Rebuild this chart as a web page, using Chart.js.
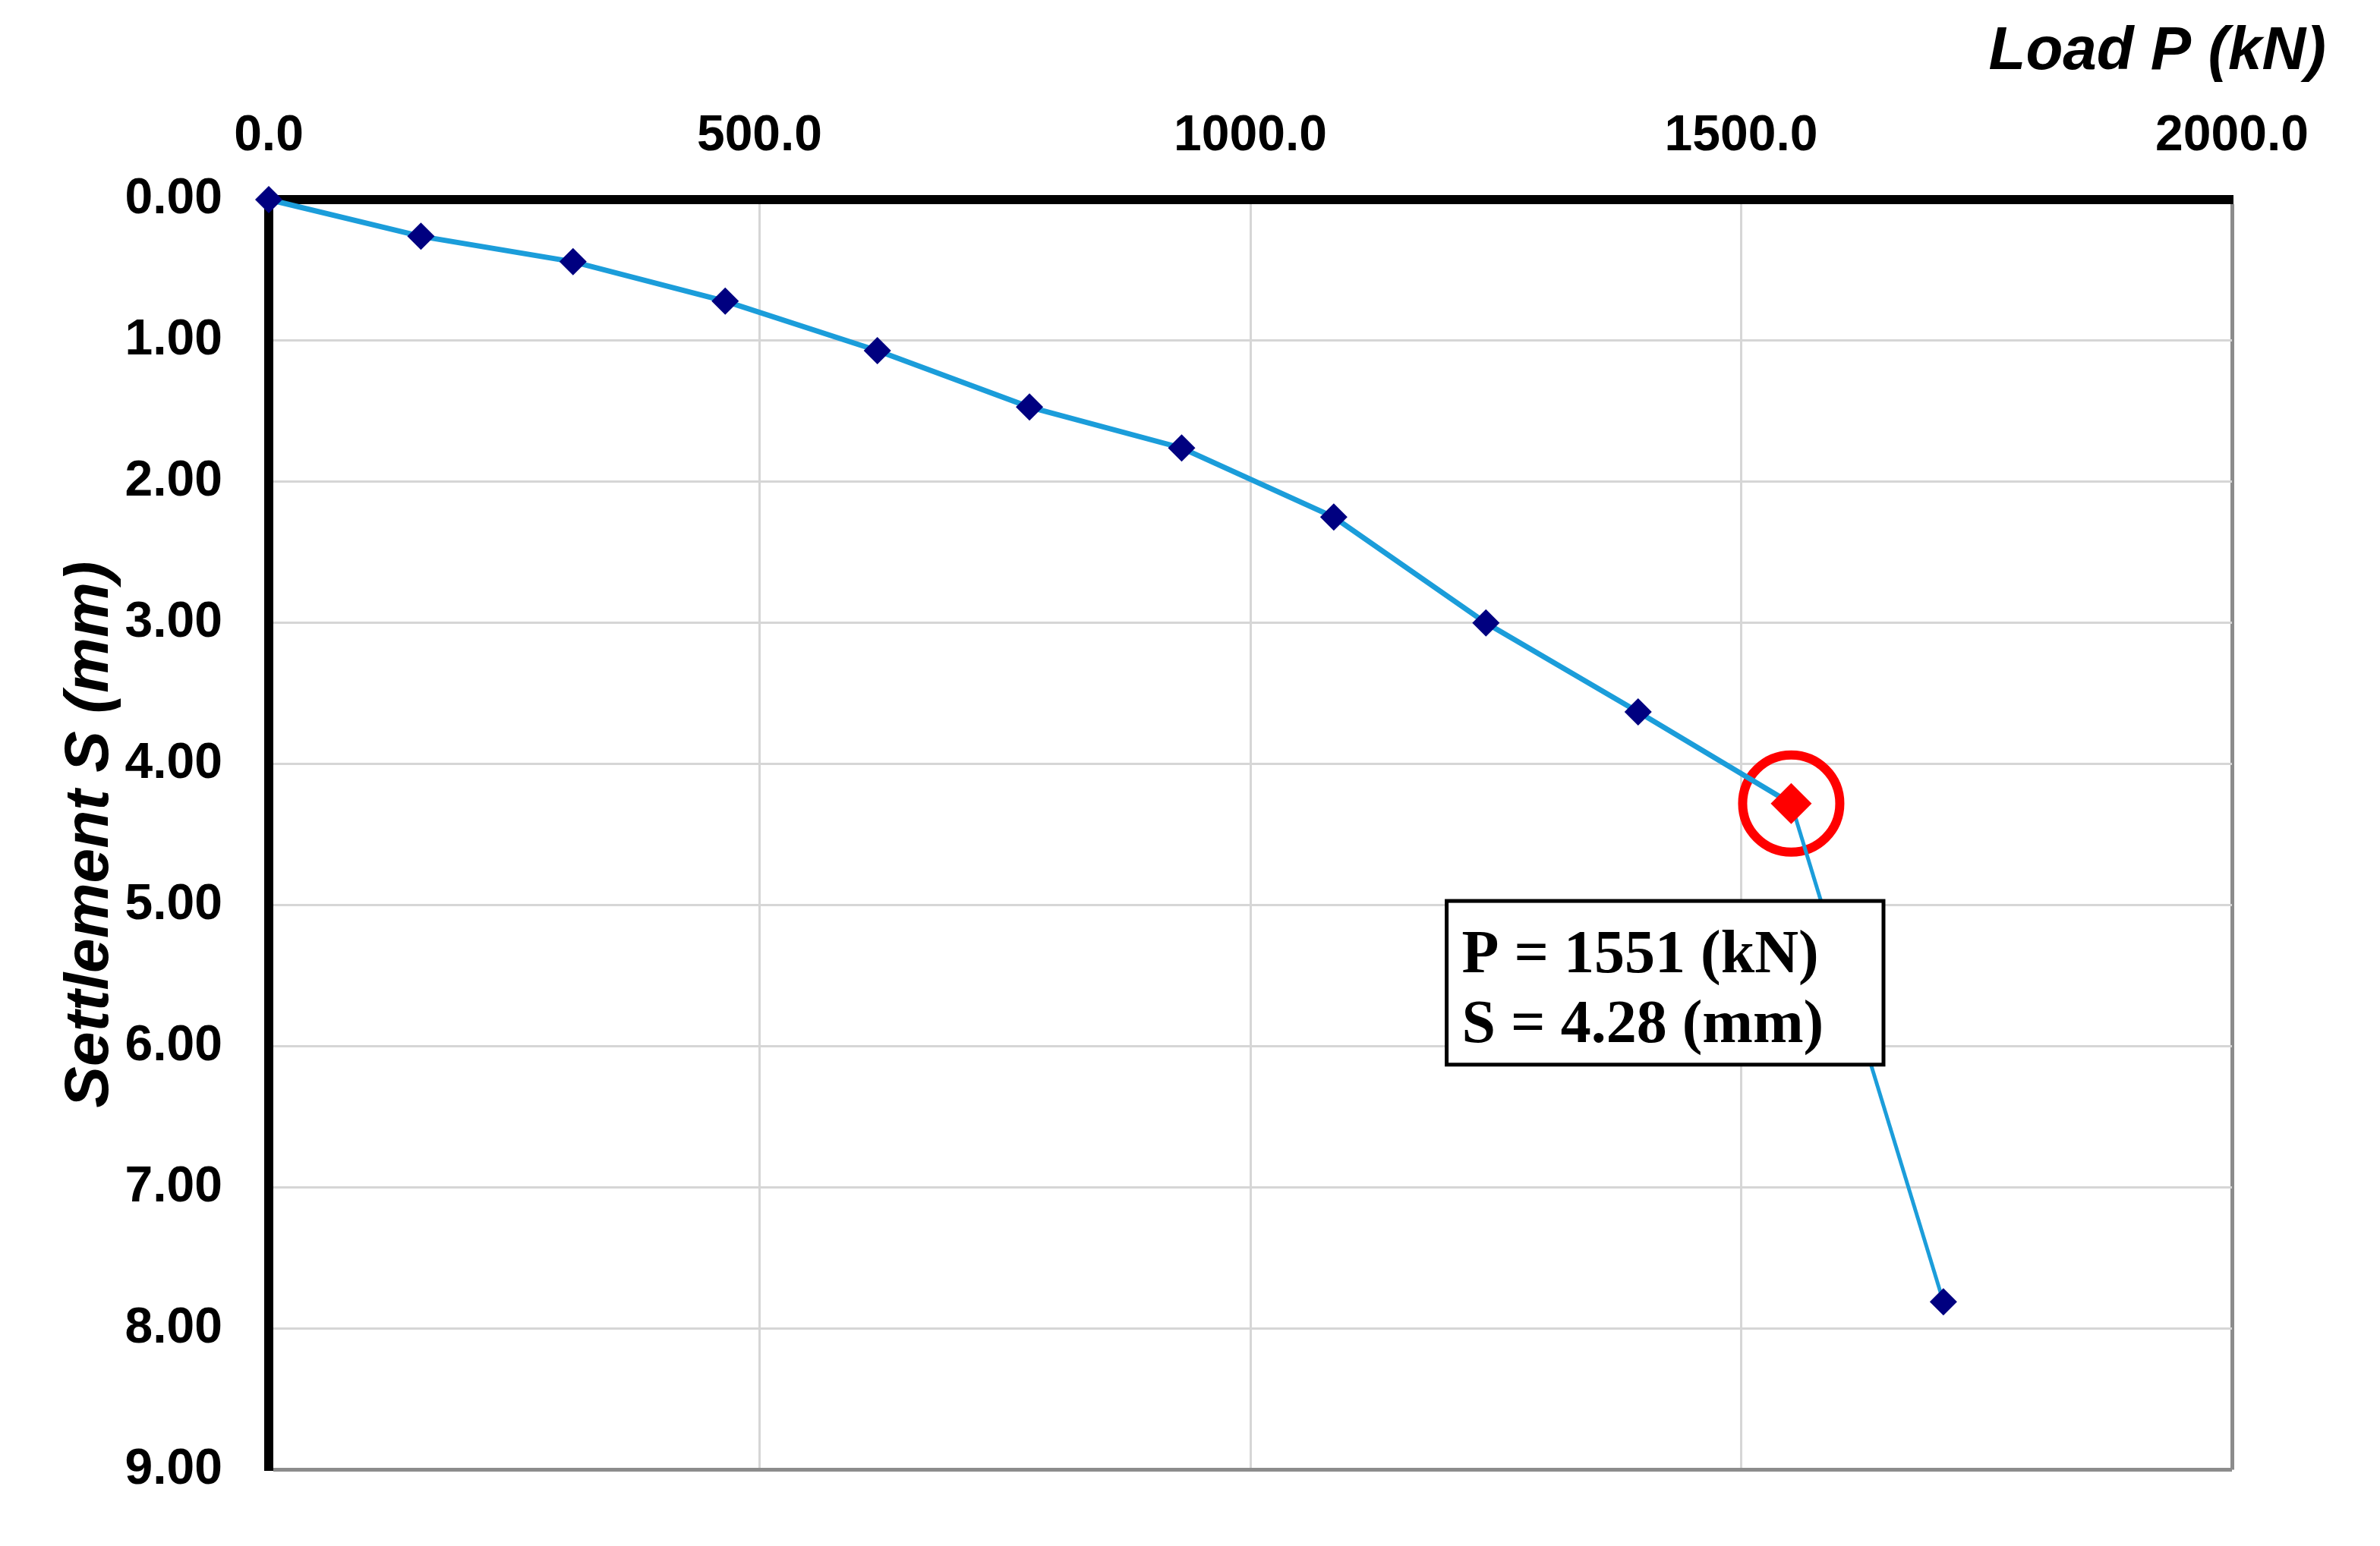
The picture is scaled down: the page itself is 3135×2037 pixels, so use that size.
<!DOCTYPE html>
<html>
<head>
<meta charset="utf-8">
<title>Load - Settlement</title>
<script src="https://cdn.jsdelivr.net/npm/chart.js@4.4.1/dist/chart.umd.min.js"></script>
<style>
	html, body { margin: 0; padding: 0; background: #fff; }
	canvas { display: block; }
</style>
</head>
<body>
<canvas id="loadChart" width="3135" height="2037"></canvas>
<script>
// load test readings
var loads = [0, 155, 310, 465, 620, 775, 930, 1085, 1240, 1395, 1551, 1706];
var settlements = [0, 0.26, 0.44, 0.72, 1.07, 1.47, 1.76, 2.25, 3.00, 3.63, 4.28, 7.81];
var loadTicks = [0, 500, 1000, 1500, 2000];
var settlementTicks = [0, 1, 2, 3, 4, 5, 6, 7, 8, 9];
var peakIndex = 10; // point marked with the red circle

var points = loads.map(function (p, i) {
	return { x: p, y: settlements[i] };
});

var sans = "'Liberation Sans', Arial, sans-serif";
var serif = "'Liberation Serif', 'Times New Roman', serif";

function gridColor(c, last) {
	if (c.tick.value === 0) return 'rgba(0,0,0,0)';
	if (c.tick.value === last) return '#8c8c8c';
	return '#d6d6d6';
}

// axis title on the right of the top axis + the value box
var extras = {
	id: 'extras',
	afterDatasetsDraw: function (chart) {
		var ctx = chart.ctx;
		var xs = chart.scales.x, ys = chart.scales.y;
		ctx.save();
		ctx.fillStyle = '#000';
		ctx.font = 'italic bold 80px ' + sans;
		ctx.textAlign = 'right';
		ctx.textBaseline = 'alphabetic';
		ctx.fillText('Load P (kN)', chart.width - 71, 91);

		var left = xs.getPixelForValue(1200), right = xs.getPixelForValue(1645);
		var top = ys.getPixelForValue(4.97), bottom = ys.getPixelForValue(6.13);
		ctx.fillStyle = '#fff';
		ctx.fillRect(left, top, right - left, bottom - top);
		ctx.lineWidth = 5;
		ctx.strokeStyle = '#000';
		ctx.strokeRect(left, top, right - left, bottom - top);

		ctx.fillStyle = '#000';
		ctx.font = 'bold 80px ' + serif;
		ctx.textAlign = 'left';
		ctx.fillText('P = ' + loads[peakIndex] + ' (kN)', left + 20, top + 94);
		ctx.fillText('S = ' + settlements[peakIndex].toFixed(2) + ' (mm)', left + 20, top + 186);
		ctx.restore();
	}
};

var context = document.getElementById('loadChart').getContext('2d');

var myChart = new Chart(context, {
	type: 'line',
	data: {
		datasets: [
			{
				data: points,
				borderColor: '#1b9dda',
				borderWidth: 7,
				segment: {
					borderWidth: function (c) { return c.p0DataIndex === peakIndex ? 5 : 7; }
				},
				pointStyle: 'rectRot',
				pointRadius: loads.map(function (p, i) { return i === peakIndex ? 27 : 18; }),
				pointHoverRadius: loads.map(function (p, i) { return i === peakIndex ? 27 : 18; }),
				pointBackgroundColor: loads.map(function (p, i) { return i === peakIndex ? '#ff0000' : '#000080'; }),
				pointBorderWidth: 0,
				tension: 0,
				clip: false
			},
			{
				// red ring round the marked point
				data: [points[peakIndex]],
				showLine: false,
				pointStyle: 'circle',
				pointRadius: 64,
				pointHoverRadius: 64,
				pointBorderWidth: 12,
				pointBorderColor: '#ff0000',
				pointBackgroundColor: 'rgba(0,0,0,0)',
				clip: false
			}
		]
	},
	options: {
		responsive: false,
		devicePixelRatio: 1,
		animation: false,
		events: [],
		layout: {
			padding: { left: 0, top: 0, right: 195, bottom: 57 }
		},
		plugins: {
			legend: { display: false },
			tooltip: { enabled: false }
		},
		scales: {
			x: {
				type: 'linear',
				position: 'top',
				min: 0,
				max: 2000,
				afterBuildTicks: function (s) {
					s.ticks = loadTicks.map(function (v) { return { value: v }; });
				},
				afterFit: function (s) { s.height = 263; },
				ticks: {
					color: '#000',
					padding: 44,
					font: { family: sans, size: 66, weight: 'bold' },
					callback: function (v) { return Number(v).toFixed(1); }
				},
				grid: {
					drawTicks: false,
					color: function (c) { return gridColor(c, 2000); },
					lineWidth: function (c) { return c.tick.value === 2000 ? 5 : 3; }
				},
				border: { color: '#000', width: 12 }
			},
			y: {
				type: 'linear',
				reverse: true,
				min: 0,
				max: 9,
				afterBuildTicks: function (s) {
					s.ticks = settlementTicks.map(function (v) { return { value: v }; });
				},
				afterFit: function (s) { s.width = 354; },
				ticks: {
					color: '#000',
					padding: 61,
					font: { family: sans, size: 66, weight: 'bold' },
					callback: function (v) { return Number(v).toFixed(2); }
				},
				grid: {
					drawTicks: false,
					color: function (c) { return gridColor(c, 9); },
					lineWidth: function (c) { return c.tick.value === 9 ? 5 : 3; }
				},
				border: { color: '#000', width: 12 },
				title: {
					display: true,
					text: 'Settlement S (mm)',
					color: '#000',
					padding: { top: 70, bottom: 0 },
					font: { family: sans, size: 82, weight: 'bold', style: 'italic' }
				}
			}
		}
	},
	plugins: [extras]
});
</script>
</body>
</html>
